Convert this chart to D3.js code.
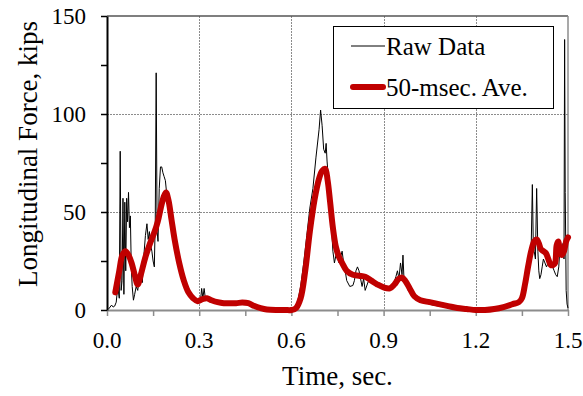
<!DOCTYPE html>
<html>
<head>
<meta charset="utf-8">
<script src="https://cdn.jsdelivr.net/npm/d3@7"></script>
<style>
  html, body { margin: 0; padding: 0; background: #fff; }
  svg { display: block; }
  text { font-family: "Times New Roman", "Liberation Serif", serif; fill: #000; }
</style>
</head>
<body>
<svg id="chart" width="583" height="396"></svg>
<script>
// Raw longitudinal force record (time in sec, force in kips)
const rawTime = [
  0.005, 0.010, 0.015, 0.020, 0.025, 0.030, 0.035, 0.040, 0.043, 0.046, 0.049, 0.052, 0.055, 0.058,
  0.061, 0.064, 0.067, 0.070, 0.073, 0.076, 0.079, 0.082, 0.086, 0.090, 0.095, 0.100, 0.105,
  0.110, 0.115, 0.120, 0.125, 0.130, 0.134, 0.138, 0.142, 0.146, 0.150, 0.154, 0.157, 0.160,
  0.163, 0.166, 0.170, 0.174, 0.178, 0.182, 0.186, 0.190, 0.195, 0.200, 0.210, 0.220, 0.230,
  0.240, 0.250, 0.260, 0.270, 0.280, 0.290, 0.300, 0.305, 0.308, 0.312, 0.316, 0.320, 0.324,
  0.330, 0.340, 0.350, 0.360, 0.370, 0.380, 0.390, 0.400, 0.410, 0.420, 0.430, 0.440, 0.445,
  0.450, 0.460, 0.470, 0.480, 0.490, 0.500, 0.520, 0.540, 0.560, 0.580, 0.600, 0.610, 0.620,
  0.630, 0.640, 0.650, 0.660, 0.670, 0.680, 0.690, 0.695, 0.700, 0.705, 0.710, 0.713, 0.716,
  0.720, 0.725, 0.730, 0.735, 0.740, 0.745, 0.750, 0.755, 0.760, 0.765, 0.770, 0.775, 0.780,
  0.790, 0.800, 0.805, 0.810, 0.815, 0.820, 0.825, 0.830, 0.835, 0.840, 0.850, 0.860, 0.870,
  0.880, 0.890, 0.900, 0.910, 0.920, 0.930, 0.940, 0.945, 0.950, 0.955, 0.960, 0.963, 0.966,
  0.970, 0.975, 0.980, 0.990, 1.000, 1.010, 1.020, 1.040, 1.060, 1.080, 1.100, 1.120, 1.140,
  1.160, 1.180, 1.200, 1.220, 1.240, 1.260, 1.280, 1.290, 1.300, 1.310, 1.320, 1.330, 1.340,
  1.345, 1.350, 1.355, 1.360, 1.365, 1.370, 1.375, 1.380, 1.384, 1.387, 1.390, 1.394, 1.398,
  1.402, 1.405, 1.408, 1.412, 1.416, 1.420, 1.425, 1.430, 1.435, 1.440, 1.445, 1.450, 1.455,
  1.460, 1.465, 1.470, 1.475, 1.480, 1.484, 1.487, 1.489, 1.491, 1.494, 1.497, 1.500
];
const rawForce = [
  0.5, 1.5, 2.5, 1.5, 2.0, 4.0, 12.0, 6.0, 81.0, 10.0, 15.0, 57.0, 8.0, 55.0,
  20.0, 57.0, 45.0, 60.0, 42.0, 48.0, 22.0, 12.0, 5.0, 8.0, 12.0, 10.0, 16.0,
  20.0, 14.0, 28.0, 38.0, 44.0, 36.0, 40.0, 33.0, 30.0, 25.0, 22.0, 45.0, 121.0,
  40.0, 35.0, 62.0, 73.0, 73.0, 70.0, 68.0, 66.0, 58.0, 52.0, 42.0, 34.0, 26.0,
  20.0, 15.0, 11.0, 8.0, 6.0, 5.0, 5.5, 6.0, 11.0, 6.0, 11.0, 6.0, 6.5,
  5.5, 5.0, 4.0, 3.5, 3.5, 3.5, 3.5, 3.5, 3.0, 3.5, 3.0, 3.5, 4.5,
  3.0, 3.0, 2.0, 1.0, 0.5, 0.3, 0.0, 0.0, 0.0, 0.0, 0.0, 1.0, 4.0,
  12.0, 24.0, 38.0, 52.0, 62.0, 78.0, 92.0, 102.0, 94.0, 82.0, 80.0, 85.0, 76.0,
  68.0, 55.0, 44.0, 30.0, 24.0, 28.0, 31.0, 24.0, 27.0, 30.0, 24.0, 20.0, 15.0,
  12.0, 12.5, 15.0, 20.0, 22.0, 20.0, 16.0, 12.0, 16.0, 10.0, 14.5, 14.0, 13.0,
  12.0, 11.5, 11.0, 10.5, 10.5, 12.0, 17.0, 20.0, 16.0, 24.0, 18.0, 28.0, 17.0,
  16.0, 13.0, 10.0, 8.0, 6.0, 5.0, 4.5, 3.5, 2.5, 2.0, 1.5, 1.0, 0.5,
  0.3, 0.0, 0.0, 0.3, 1.0, 1.0, 1.5, 2.0, 2.5, 3.0, 3.5, 4.0, 4.0,
  6.0, 5.0, 12.0, 8.0, 14.0, 20.0, 26.0, 30.0, 64.0, 34.0, 30.0, 26.0, 62.0,
  30.0, 20.0, 16.0, 18.0, 22.0, 26.0, 24.0, 22.0, 24.0, 27.0, 24.0, 22.0, 20.0,
  18.0, 17.0, 22.0, 35.0, 30.0, 34.0, 26.0, 138.0, 60.0, 10.0, 3.0, 1.0
];

// 50-msec moving average of the same record
const aveTime = [
  0.027, 0.040, 0.050, 0.060, 0.070, 0.080, 0.090, 0.100, 0.110, 0.125, 0.140, 0.155, 0.165,
  0.175, 0.185, 0.192, 0.200, 0.210, 0.220, 0.235, 0.250, 0.265, 0.280, 0.295, 0.310, 0.325,
  0.340, 0.360, 0.380, 0.400, 0.420, 0.440, 0.460, 0.480, 0.500, 0.520, 0.550, 0.580, 0.600,
  0.615, 0.630, 0.645, 0.660, 0.675, 0.690, 0.700, 0.710, 0.718, 0.726, 0.735, 0.745, 0.755,
  0.765, 0.780, 0.800, 0.820, 0.840, 0.860, 0.880, 0.900, 0.920, 0.935, 0.950, 0.960, 0.970,
  0.985, 1.000, 1.020, 1.050, 1.080, 1.110, 1.140, 1.170, 1.200, 1.230, 1.260, 1.290, 1.320,
  1.340, 1.350, 1.360, 1.370, 1.380, 1.390, 1.398, 1.405, 1.412, 1.420, 1.428, 1.436, 1.444,
  1.452, 1.458, 1.463, 1.468, 1.474, 1.480, 1.487, 1.494, 1.500
];
const aveForce = [
  9.0, 20.0, 28.0, 30.0, 28.0, 24.0, 18.0, 13.0, 18.0, 27.0, 34.0, 40.0, 45.0,
  52.0, 58.0, 60.0, 56.0, 46.0, 36.0, 24.0, 15.0, 9.0, 6.0, 4.5, 5.5, 6.0,
  5.0, 4.0, 3.5, 3.5, 3.5, 3.8, 3.5, 2.0, 1.0, 0.3, 0.0, 0.0, 0.0,
  1.0, 6.0, 20.0, 40.0, 56.0, 67.0, 71.0, 72.0, 66.0, 55.0, 42.0, 32.0, 27.0,
  24.0, 20.0, 18.0, 17.5, 17.0, 15.0, 13.0, 11.5, 11.0, 13.0, 16.0, 16.5, 15.0,
  11.0, 7.0, 5.0, 4.0, 3.0, 2.0, 1.0, 0.5, 0.0, 0.0, 0.5, 1.5, 3.0,
  4.0, 6.0, 13.0, 22.0, 30.0, 35.0, 36.0, 34.0, 31.0, 30.0, 29.0, 26.0, 23.0,
  23.0, 24.0, 33.0, 35.0, 30.0, 28.0, 30.0, 35.0, 37.0
];

const xTicks = [0.0, 0.3, 0.6, 0.9, 1.2, 1.5];
const xMinorTicks = [0.15, 0.45, 0.75, 1.05, 1.35];
const yTicks = [0, 50, 100, 150];
const yMinorTicks = [25, 75, 125];

const xTitle = "Time, sec.";
const yTitle = "Longitudinal Force, kips";
const seriesNames = ["Raw Data", "50-msec. Ave."];

const svg = d3.select("#chart");
const plot = { left: 107, right: 568, top: 16, bottom: 310 };

const x = d3.scaleLinear().domain([0, 1.5]).range([plot.left, plot.right]);
const y = d3.scaleLinear().domain([0, 150]).range([plot.bottom, plot.top]);

const axisGrey = "#8c8c8c";
const gridGrey = "#8c8c8c";
const aveRed = "#c00000";

// gridlines (dotted)
const grid = svg.append("g");
grid.selectAll("line.gx")
  .data(xTicks.filter(d => d > 0 && d < 1.5))
  .join("line")
  .attr("x1", d => Math.round(x(d)) + 0.5).attr("x2", d => Math.round(x(d)) + 0.5)
  .attr("y1", plot.top).attr("y2", plot.bottom)
  .attr("stroke", gridGrey).attr("stroke-width", 1).attr("stroke-dasharray", "2,1");
grid.selectAll("line.gy")
  .data(yTicks.filter(d => d > 0 && d < 150))
  .join("line")
  .attr("x1", plot.left).attr("x2", plot.right)
  .attr("y1", d => Math.round(y(d)) + 0.5).attr("y2", d => Math.round(y(d)) + 0.5)
  .attr("stroke", gridGrey).attr("stroke-width", 1).attr("stroke-dasharray", "2,1");

// frame: top and right edges
svg.append("line")
  .attr("x1", plot.left).attr("x2", plot.right)
  .attr("y1", y(150)).attr("y2", y(150))
  .attr("stroke", "#555").attr("stroke-width", 1.5);
svg.append("line")
  .attr("x1", x(1.5)).attr("x2", x(1.5))
  .attr("y1", plot.top).attr("y2", plot.bottom)
  .attr("stroke", axisGrey).attr("stroke-width", 1.5);

// x axis
const xAxis = svg.append("g").attr("transform", `translate(0,${plot.bottom})`);
xAxis.call(d3.axisBottom(x).tickValues(xTicks.concat(xMinorTicks)).tickFormat("").tickSizeInner(6).tickSizeOuter(0));
xAxis.select(".domain").attr("stroke", axisGrey).attr("stroke-width", 2);
xAxis.selectAll(".tick line").attr("stroke", axisGrey).attr("stroke-width", 1.5);
svg.append("g").selectAll("text")
  .data(xTicks)
  .join("text")
  .attr("x", d => x(d)).attr("y", 348)
  .attr("text-anchor", "middle")
  .style("font-size", "23px")
  .text(d => d.toFixed(1));

// y axis
const yAxis = svg.append("g").attr("transform", `translate(${plot.left},0)`);
yAxis.call(d3.axisLeft(y).tickValues(yTicks.concat(yMinorTicks)).tickFormat("").tickSizeInner(6).tickSizeOuter(0));
yAxis.select(".domain").attr("stroke", "#000").attr("stroke-width", 2);
yAxis.selectAll(".tick line").attr("stroke", "#000").attr("stroke-width", 1.5);
svg.append("g").selectAll("text")
  .data(yTicks)
  .join("text")
  .attr("x", 86).attr("y", d => y(d) + 8)
  .attr("text-anchor", "end")
  .style("font-size", "23px")
  .text(d => d);

// axis titles
svg.append("text")
  .attr("x", (plot.left + plot.right) / 2).attr("y", 385)
  .attr("text-anchor", "middle")
  .style("font-size", "27px")
  .text(xTitle);
svg.append("text")
  .attr("transform", `translate(37,154) rotate(-90)`)
  .attr("text-anchor", "middle")
  .style("font-size", "27px")
  .text(yTitle);

// series
const rawLine = d3.line()
  .x((d, i) => x(rawTime[i]))
  .y(d => y(d));
const aveLine = d3.line()
  .x((d, i) => x(aveTime[i]))
  .y(d => y(d))
  .curve(d3.curveCatmullRom.alpha(0.5));

svg.append("path")
  .datum(rawForce)
  .attr("d", rawLine)
  .attr("fill", "none").attr("stroke", "#000").attr("stroke-width", 1)
  .attr("stroke-linejoin", "round");
svg.append("path")
  .datum(aveForce)
  .attr("d", aveLine)
  .attr("fill", "none").attr("stroke", aveRed).attr("stroke-width", 6)
  .attr("stroke-linejoin", "round").attr("stroke-linecap", "round");

// legend
const legend = svg.append("g");
legend.append("rect")
  .attr("x", 333.5).attr("y", 26.5).attr("width", 220).attr("height", 82)
  .attr("fill", "#fff").attr("stroke", "#000").attr("stroke-width", 1);
legend.append("line")
  .attr("x1", 351).attr("x2", 385).attr("y1", 46).attr("y2", 46)
  .attr("stroke", "#000").attr("stroke-width", 1);
legend.append("text")
  .attr("x", 386).attr("y", 55)
  .style("font-size", "25px")
  .text(seriesNames[0]);
legend.append("line")
  .attr("x1", 353).attr("x2", 383).attr("y1", 87).attr("y2", 87)
  .attr("stroke", aveRed).attr("stroke-width", 6).attr("stroke-linecap", "round");
legend.append("text")
  .attr("x", 386).attr("y", 96)
  .style("font-size", "25px")
  .text(seriesNames[1]);
</script>
</body>
</html>
